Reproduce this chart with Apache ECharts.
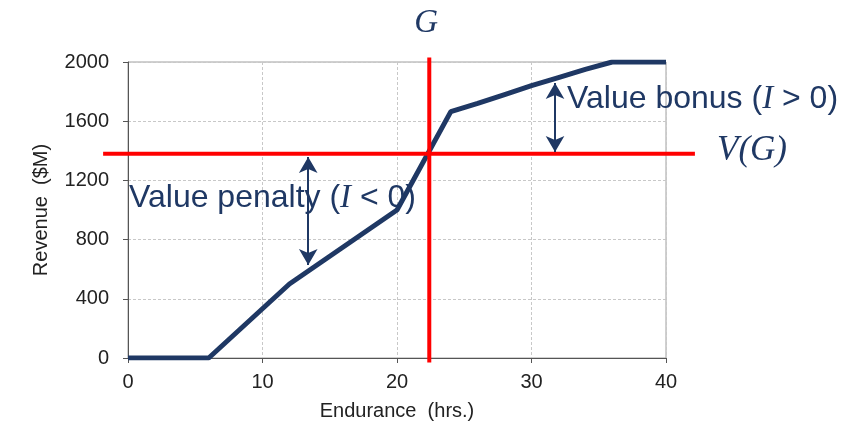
<!DOCTYPE html>
<html>
<head>
<meta charset="utf-8">
<script src="https://cdn.jsdelivr.net/npm/echarts@6/dist/echarts.min.js"></script>
<style>html,body{margin:0;padding:0;background:#fff}#c{width:859px;height:428px}</style>
</head>
<body>
<div id="c"></div>
<script>
// Data
var endurance = [0, 6, 12, 20, 24, 26, 28, 30, 32, 34, 36, 40];
var revenue   = [0, 0, 500, 1000, 1665, 1720, 1780, 1840, 1895, 1950, 2000, 2000];
var xTicks = [0, 10, 20, 30, 40];
var yTicks = [0, 400, 800, 1200, 1600, 2000];
var G = 22.4;          // goal endurance
var VG = 1380;         // value at goal
var gLineSpan = [-30, 2030];      // vertical red line extent (revenue)
var vLineSpan = [-1.85, 42.15];   // horizontal red line extent (endurance)
var bonusArrow = [31.75, 1392, 1858];   // x, y from, y to
var penaltyArrow = [13.4, 1358, 628];

var navy = '#1f3864';
var chart = echarts.init(document.getElementById('c'));
var axisFont = 'Liberation Sans';
var option = {
  animation: false,
  grid: {left: 128, right: 193, top: 62, bottom: 70, show: true, borderColor: '#a0a0a0', borderWidth: 1},
  xAxis: {
    type: 'value', min: 0, max: 40, interval: 10,
    name: 'Endurance  (hrs.)', nameLocation: 'middle', nameGap: 43,
    nameTextStyle: {fontFamily: axisFont, fontSize: 20, color: '#222'},
    axisLine: {show: true, lineStyle: {color: '#555', width: 1}},
    axisTick: {show: true, length: 5, lineStyle: {color: '#555'}},
    axisLabel: {fontFamily: axisFont, fontSize: 20, color: '#222', margin: 14},
    splitLine: {show: true, lineStyle: {color: '#c8c8c8', type: [3, 2]}}
  },
  yAxis: {
    type: 'value', min: 0, max: 2000, interval: 400,
    name: 'Revenue  ($M)', nameLocation: 'middle', nameGap: 77, nameRotate: 90,
    nameTextStyle: {fontFamily: axisFont, fontSize: 20, color: '#222'},
    axisLine: {show: true, lineStyle: {color: '#555', width: 1}},
    axisTick: {show: true, length: 5, lineStyle: {color: '#555'}},
    axisLabel: {fontFamily: axisFont, fontSize: 20, color: '#222', margin: 19,
      formatter: function (v) { return String(v); }},
    splitLine: {show: true, lineStyle: {color: '#c8c8c8', type: [3, 2]}}
  },
  series: [
    {
      type: 'line', data: endurance.map(function (x, i) { return [x, revenue[i]]; }),
      symbol: 'none', lineStyle: {color: navy, width: 5}, z: 3
    },
    {
      type: 'line', data: [], symbol: 'none',
      markLine: {
        silent: true, symbol: ['arrow', 'arrow'], symbolSize: [14, 16],
        lineStyle: {color: navy, width: 2, type: 'solid'}, label: {show: false},
        data: [
          [{coord: [bonusArrow[0], bonusArrow[1]]}, {coord: [bonusArrow[0], bonusArrow[2]]}],
          [{coord: [penaltyArrow[0], penaltyArrow[1]]}, {coord: [penaltyArrow[0], penaltyArrow[2]]}]
        ]
      },
      z: 5
    }
  ]
};
chart.setOption(option);

function px(x, y) { return chart.convertToPixel({gridIndex: 0}, [x, y]); }
var g0 = px(G, gLineSpan[0]), g1 = px(G, gLineSpan[1]);
var v0 = px(vLineSpan[0], VG), v1 = px(vLineSpan[1], VG);
var pG = px(G, 2000);
var pV = px(40, VG);
var pB = px(bonusArrow[0], 1700);
var pP = px(0, 1080);
var serif = 'Liberation Serif';
var sans = 'Liberation Sans';
var richStyle = {
  a: {fontFamily: sans, fontSize: 32, fill: navy, color: navy},
  i: {fontFamily: serif, fontStyle: 'italic', fontSize: 33, fill: navy, color: navy}
};
chart.setOption({
  graphic: [
    {type: 'line', z: 4, shape: {x1: g0[0], y1: g0[1], x2: g1[0], y2: g1[1]},
     style: {stroke: '#ff0000', lineWidth: 4}},
    {type: 'line', z: 4, shape: {x1: v0[0], y1: v0[1], x2: v1[0], y2: v1[1]},
     style: {stroke: '#ff0000', lineWidth: 4}},
    {type: 'text', x: pG[0] - 3, y: pG[1] - 39, z: 10,
     style: {text: 'G', font: 'italic 33px "Liberation Serif"', fill: navy, align: 'center', verticalAlign: 'middle'}},
    {type: 'text', x: pV[0] + 86, y: pV[1] - 3, z: 10,
     style: {text: 'V(G)', font: 'italic 35px "Liberation Serif"', fill: navy, align: 'center', verticalAlign: 'middle'}},
    {type: 'text', x: pB[0] + 12, y: pB[1] - 7, z: 10,
     style: {text: '{a|Value bonus (}{i|I}{a| > 0)}', rich: richStyle, verticalAlign: 'middle'}},
    {type: 'text', x: pP[0] + 1, y: pP[1], z: 10,
     style: {text: '{a|Value penalty (}{i|I}{a| < 0)}', rich: richStyle, verticalAlign: 'middle'}}
  ]
});
</script>
</body>
</html>
